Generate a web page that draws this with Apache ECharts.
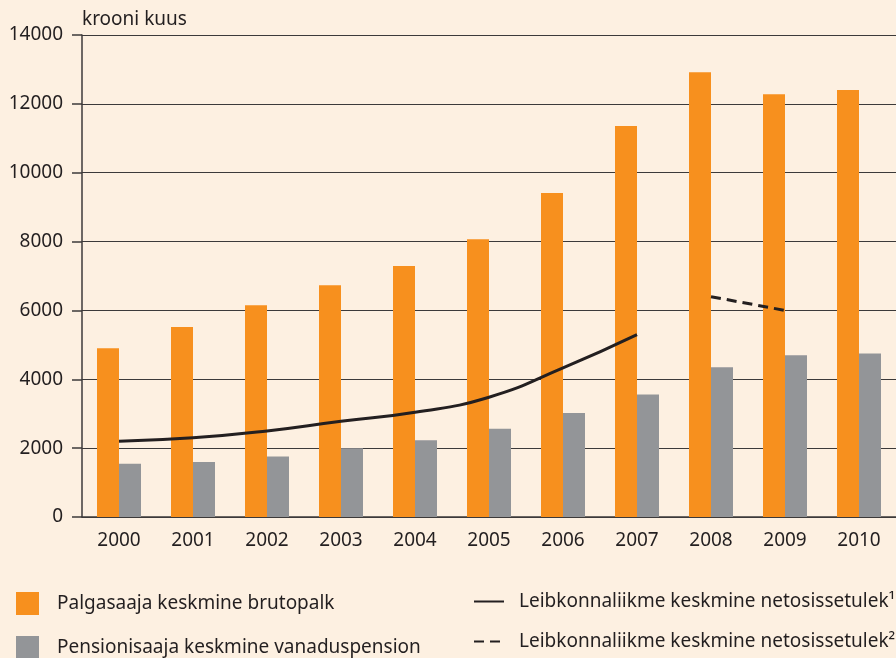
<!DOCTYPE html>
<html>
<head>
<meta charset="utf-8">
<script src="https://cdn.jsdelivr.net/npm/echarts@6/dist/echarts.min.js"></script>
<style>
  html, body { margin: 0; padding: 0; background: #fdf0e1; }
  #chart { width: 896px; height: 658px; }
</style>
</head>
<body>
<div id="chart"></div>
<script>
// aastad
const years = ['2000', '2001', '2002', '2003', '2004', '2005', '2006', '2007', '2008', '2009', '2010']
// palgasaaja keskmine brutopalk
const grossWage = [4900, 5520, 6150, 6730, 7290, 8070, 9410, 11360, 12920, 12280, 12400]
// pensionisaaja keskmine vanaduspension
const oldAgePension = [1550, 1600, 1760, 2000, 2230, 2560, 3020, 3560, 4350, 4700, 4750]
// leibkonnaliikme netosissetulek (vana metoodika)
const netIncome1 = [2200, 2300, 2500, 2780, 3040, 3480, 4330, 5300, null, null, null]
// leibkonnaliikme netosissetulek (uus metoodika)
const netIncome2 = [null, null, null, null, null, null, null, null, 6400, 6000, null]
const yTicks = [0, 2000, 4000, 6000, 8000, 10000, 12000, 14000]

const names = [
  'Palgasaaja keskmine brutopalk',
  'Pensionisaaja keskmine vanaduspension',
  'Leibkonnaliikme keskmine netosissetulek¹',
  'Leibkonnaliikme keskmine netosissetulek²'
]

const textColor = '#231f20'
const lineColor = '#3c3a3a'
const font = 'Noto Sans'

const chart = echarts.init(document.getElementById('chart'))

const option = {
  backgroundColor: '#fdf0e1',
  animation: false,
  textStyle: { fontFamily: font, color: textColor },
  grid: {
    left: 82,
    right: -4,
    top: 35,
    bottom: 141
  },
  title: {
    text: 'krooni kuus',
    left: 82,
    top: 10,
    padding: 0,
    textStyle: { fontFamily: font, fontSize: 19, fontWeight: 'normal', color: textColor }
  },
  legend: [
    {
      data: [names[0], names[1]],
      orient: 'vertical',
      left: 16,
      top: 592,
      height: 120,
      padding: 0,
      itemWidth: 23,
      itemHeight: 23,
      itemGap: 21,
      icon: 'rect',
      textStyle: { fontFamily: font, fontSize: 19, color: textColor, padding: [0, 0, 0, 13] }
    },
    {
      data: [names[2], names[3]],
      orient: 'vertical',
      left: 473,
      top: 592,
      height: 120,
      padding: 0,
      itemWidth: 30,
      itemHeight: 23,
      itemGap: 21,
      itemStyle: { opacity: 0 },
      textStyle: { fontFamily: font, fontSize: 19, color: textColor, padding: [0, 0, 0, 10] }
    }
  ],
  xAxis: {
    type: 'category',
    data: years,
    axisLine: { lineStyle: { color: lineColor, width: 1.5 } },
    axisTick: { length: 8, lineStyle: { color: lineColor, width: 1.5 } },
    axisLabel: { fontFamily: font, fontSize: 19, color: textColor, margin: 14 }
  },
  yAxis: {
    type: 'value',
    min: 0,
    max: 14000,
    interval: 2000,
    axisLine: { show: true, lineStyle: { color: lineColor, width: 1.5 } },
    axisTick: { show: true, length: 10, lineStyle: { color: lineColor, width: 1.5 } },
    axisLabel: {
      fontFamily: font,
      fontSize: 19,
      color: textColor,
      margin: 19,
      formatter: (v) => (yTicks.indexOf(v) >= 0 ? String(v) : '')
    },
    splitLine: { lineStyle: { color: lineColor, width: 1 } }
  },
  series: [
    {
      name: names[0],
      type: 'bar',
      data: grossWage,
      barWidth: 22,
      barGap: '0%',
      itemStyle: { color: '#f7901e' }
    },
    {
      name: names[1],
      type: 'bar',
      data: oldAgePension,
      barWidth: 22,
      itemStyle: { color: '#939598' }
    },
    {
      name: names[2],
      type: 'line',
      data: netIncome1,
      smooth: 0.5,
      symbol: 'none',
      lineStyle: { color: textColor, width: 3 },
      itemStyle: { color: textColor }
    },
    {
      name: names[3],
      type: 'line',
      data: netIncome2,
      symbol: 'none',
      lineStyle: { color: textColor, width: 3, type: [10, 6] },
      itemStyle: { color: textColor }
    }
  ]
}

chart.setOption(option)
</script>
</body>
</html>
